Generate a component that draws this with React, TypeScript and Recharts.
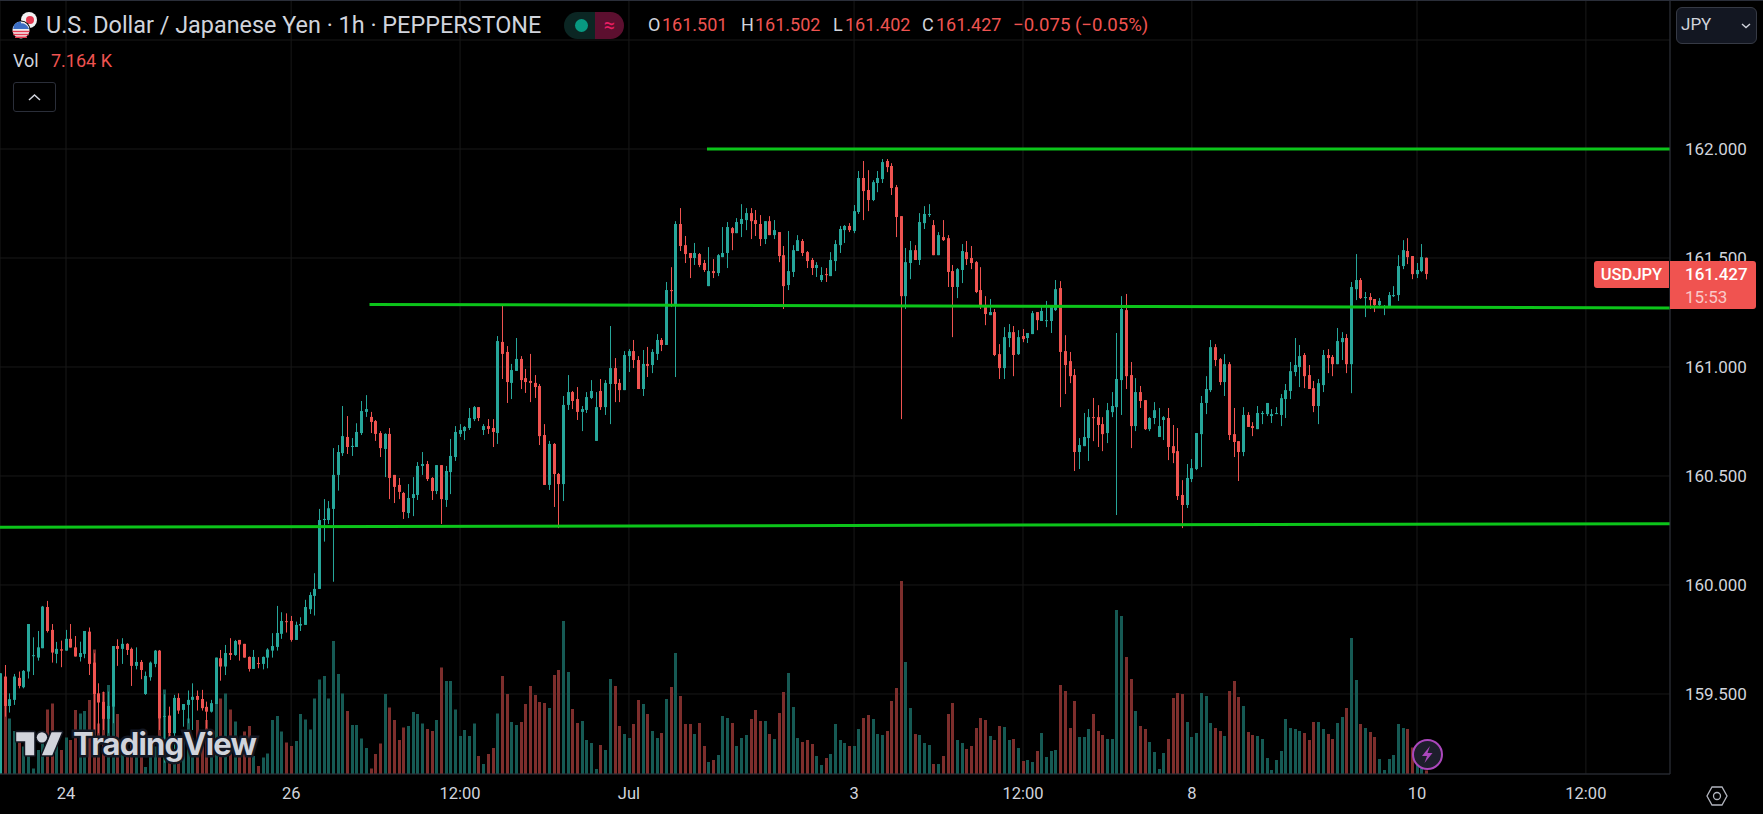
import { ComposedChart, Bar, XAxis, YAxis, CartesianGrid, ReferenceLine } from 'recharts'

const opens = [
  159.136,159.580,159.445,159.473,159.574,159.531,159.603,159.675,159.667,159.710,
  159.899,159.794,159.684,159.705,159.699,159.753,159.714,159.670,159.684,159.786,
  159.644,159.503,159.464,159.386,159.442,159.720,159.707,159.730,159.707,159.629,
  159.647,159.500,159.577,159.638,159.699,159.396,159.401,159.320,159.482,159.427,
  159.450,159.473,159.491,159.477,159.441,159.419,159.454,159.664,159.626,159.688,
  159.679,159.748,159.730,159.670,159.615,159.642,159.638,159.667,159.699,159.716,
  159.776,159.834,159.835,159.748,159.814,159.817,159.889,159.950,159.982,160.298,
  160.298,160.349,160.505,160.605,160.679,160.633,160.633,160.697,160.794,160.771,
  160.752,160.697,160.624,160.693,160.505,160.459,160.422,160.330,160.399,160.413,
  160.546,160.555,160.491,160.431,160.550,160.390,160.518,160.587,160.693,160.706,
  160.720,160.761,160.816,160.711,160.729,160.720,160.697,161.115,161.069,160.927,
  160.982,161.037,160.949,160.936,160.927,160.913,160.688,160.459,160.647,160.509,
  160.463,160.826,160.885,160.853,160.794,160.803,160.858,160.661,160.890,160.816,
  160.922,160.995,160.927,160.894,161.050,161.073,161.032,160.899,161.014,161.009,
  161.060,161.124,161.101,161.353,161.280,161.656,161.559,161.523,161.500,161.518,
  161.477,161.371,161.440,161.431,161.504,161.523,161.637,161.614,161.656,161.674,
  161.706,161.674,161.656,161.587,161.669,161.605,161.619,161.513,161.376,161.436,
  161.532,161.578,161.527,161.491,161.454,161.399,161.426,161.417,161.486,161.559,
  161.628,161.647,161.624,161.711,161.867,161.812,161.766,161.844,161.862,161.945,
  161.922,161.825,161.692,161.325,161.477,161.536,161.491,161.660,161.697,161.651,
  161.513,161.596,161.591,161.440,161.367,161.445,161.527,161.500,161.481,161.353,
  161.280,161.238,161.252,161.059,160.995,161.133,161.160,161.059,161.142,161.133,
  161.151,161.252,161.211,161.211,161.211,161.261,161.362,161.073,161.027,160.963,
  160.610,160.637,160.674,160.770,160.770,160.738,160.697,160.793,160.816,160.940,
  161.261,160.963,160.729,160.885,160.848,160.715,160.766,160.679,160.757,160.766,
  160.637,160.614,160.413,160.367,160.486,160.532,160.692,160.835,160.894,161.091,
  161.036,160.931,161.013,160.692,160.660,160.610,160.780,160.729,160.715,160.784,
  160.784,160.775,160.784,160.780,160.853,160.890,160.977,161.000,161.055,160.963,
  160.903,160.821,160.917,161.055,161.046,161.013,161.114,161.133,161.013,161.357,
  161.399,161.316,161.321,161.312,161.284,161.275,161.275,161.325,161.330,161.463,
  161.532,161.509,161.426,161.440,161.501,
]

const highs = [
  159.595,159.633,159.503,159.592,159.603,159.610,159.821,159.760,159.789,159.904,
  159.927,159.821,159.739,159.745,159.794,159.821,159.766,159.740,159.789,159.805,
  159.687,159.549,159.511,159.511,159.720,159.751,159.756,159.733,159.713,159.714,
  159.656,159.603,159.649,159.702,159.702,159.499,159.442,159.496,159.503,159.454,
  159.516,159.549,159.516,159.519,159.465,159.473,159.667,159.702,159.725,159.756,
  159.748,159.748,159.730,159.672,159.702,159.669,159.672,159.710,159.779,159.904,
  159.875,159.870,159.858,159.832,159.852,159.932,159.967,160.054,160.349,160.394,
  160.385,160.628,160.642,160.821,160.775,160.674,160.742,160.844,160.871,160.794,
  160.757,160.706,160.696,160.720,160.505,160.491,160.427,160.463,160.495,160.564,
  160.610,160.569,160.495,160.550,160.550,160.546,160.670,160.729,160.738,160.729,
  160.812,160.821,160.816,160.738,160.761,160.761,161.142,161.284,161.096,161.014,
  161.133,161.050,160.991,161.060,160.963,160.922,160.738,160.661,160.651,160.514,
  160.867,160.963,160.890,160.908,160.821,160.885,160.940,160.885,160.945,160.940,
  161.188,161.041,160.945,161.073,161.082,161.124,161.050,161.078,161.092,161.082,
  161.151,161.133,161.390,161.458,161.669,161.729,161.601,161.523,161.569,161.523,
  161.491,161.550,161.495,161.518,161.642,161.665,161.642,161.683,161.747,161.729,
  161.729,161.720,161.697,161.669,161.692,161.674,161.619,161.555,161.624,161.559,
  161.605,161.587,161.532,161.500,161.481,161.458,161.454,161.527,161.582,161.647,
  161.651,161.660,161.743,161.899,161.945,161.903,161.857,161.899,161.954,161.954,
  161.935,161.835,161.692,161.546,161.578,161.559,161.706,161.738,161.747,161.674,
  161.619,161.674,161.605,161.468,161.454,161.564,161.578,161.555,161.486,161.458,
  161.325,161.312,161.266,161.105,161.183,161.197,161.188,161.169,161.174,161.156,
  161.257,161.252,161.284,161.303,161.284,161.399,161.394,161.146,161.069,160.991,
  160.674,160.789,160.807,160.858,160.825,160.770,160.835,160.885,161.156,161.325,
  161.335,161.023,160.949,160.913,160.848,160.770,160.839,160.812,160.775,160.812,
  160.734,160.720,160.481,160.555,160.578,160.697,160.867,160.958,161.124,161.105,
  161.041,161.059,161.023,160.812,160.660,160.816,160.793,160.747,160.821,160.798,
  160.835,160.807,160.816,160.876,160.922,161.023,161.133,161.101,161.064,161.009,
  160.936,160.945,161.078,161.082,161.055,161.179,161.160,161.151,161.390,161.518,
  161.408,161.344,161.339,161.312,161.316,161.284,161.344,161.371,161.513,161.582,
  161.591,161.509,161.477,161.564,161.502,
]

const lows = [
  159.136,159.396,159.415,159.450,159.526,159.526,159.571,159.587,159.653,159.710,
  159.782,159.644,159.641,159.623,159.699,159.713,159.672,159.649,159.664,159.587,
  159.320,159.320,159.335,159.320,159.366,159.629,159.638,159.679,159.537,159.613,
  159.568,159.496,159.561,159.623,159.335,159.185,159.198,159.198,159.409,159.350,
  159.366,159.335,159.424,159.424,159.343,159.415,159.454,159.561,159.587,159.656,
  159.675,159.653,159.667,159.603,159.615,159.618,159.613,159.618,159.667,159.699,
  159.753,159.782,159.740,159.748,159.789,159.817,159.867,159.860,159.982,160.199,
  160.280,160.015,160.433,160.592,160.601,160.592,160.633,160.688,160.771,160.697,
  160.661,160.587,160.495,160.394,160.376,160.394,160.303,160.307,160.316,160.390,
  160.505,160.477,160.390,160.417,160.280,160.358,160.417,160.569,160.679,160.665,
  160.711,160.752,160.752,160.688,160.693,160.633,160.647,160.945,160.835,160.853,
  160.982,160.899,160.881,160.839,160.858,160.642,160.459,160.436,160.358,160.261,
  160.385,160.803,160.807,160.757,160.706,160.789,160.853,160.661,160.803,160.780,
  160.738,160.839,160.839,160.894,160.977,160.995,160.899,160.867,160.954,160.972,
  161.032,161.073,161.101,161.275,160.954,161.532,161.477,161.408,161.468,161.458,
  161.436,161.371,161.408,161.417,161.504,161.454,161.536,161.614,161.596,161.628,
  161.587,161.601,161.555,161.564,161.605,161.587,161.481,161.266,161.353,161.413,
  161.532,161.509,161.454,161.422,161.413,161.390,161.390,161.417,161.440,161.523,
  161.569,161.619,161.614,161.702,161.674,161.715,161.761,161.802,161.844,161.894,
  161.789,161.596,160.761,161.266,161.403,161.491,161.468,161.633,161.688,161.513,
  161.513,161.578,161.367,161.137,161.316,161.385,161.468,161.449,161.339,161.266,
  161.192,161.238,161.050,160.945,160.945,161.091,160.958,161.055,161.114,161.110,
  161.151,161.169,161.211,161.183,161.156,161.257,160.816,160.876,160.926,160.523,
  160.532,160.637,160.569,160.660,160.633,160.614,160.651,160.770,160.321,160.780,
  160.899,160.628,160.706,160.812,160.711,160.706,160.738,160.679,160.665,160.573,
  160.559,160.390,160.261,160.353,160.472,160.527,160.541,160.784,160.885,161.004,
  160.917,160.867,160.665,160.587,160.477,160.591,160.725,160.683,160.715,160.738,
  160.775,160.743,160.784,160.729,160.766,160.853,160.958,160.908,160.903,160.899,
  160.793,160.738,160.885,160.972,160.958,161.013,161.032,160.972,160.880,161.307,
  161.312,161.229,161.266,161.252,161.275,161.238,161.275,161.321,161.303,161.449,
  161.472,161.403,161.408,161.435,161.402,
]

const closes = [
  159.595,159.445,159.476,159.580,159.537,159.606,159.821,159.678,159.714,159.901,
  159.789,159.690,159.707,159.699,159.753,159.713,159.672,159.688,159.789,159.638,
  159.500,159.461,159.386,159.445,159.720,159.707,159.730,159.702,159.629,159.647,
  159.610,159.583,159.644,159.699,159.387,159.399,159.320,159.482,159.424,159.454,
  159.473,159.487,159.473,159.435,159.419,159.458,159.667,159.626,159.688,159.679,
  159.743,159.727,159.667,159.615,159.670,159.639,159.670,159.704,159.720,159.780,
  159.835,159.831,159.748,159.817,159.821,159.899,159.954,159.982,160.298,160.303,
  160.352,160.505,160.610,160.683,160.633,160.638,160.702,160.798,160.807,160.748,
  160.693,160.628,160.693,160.491,160.450,160.427,160.335,160.399,160.417,160.546,
  160.555,160.486,160.431,160.550,160.394,160.523,160.592,160.702,160.711,160.725,
  160.766,160.816,160.766,160.729,160.716,160.702,161.119,161.060,160.931,160.986,
  161.037,160.940,160.931,160.927,160.908,160.683,160.459,160.647,160.509,160.463,
  160.826,160.885,160.844,160.794,160.807,160.862,160.890,160.816,160.816,160.927,
  160.995,160.922,160.894,161.055,161.073,161.032,160.899,161.014,161.005,161.069,
  161.124,161.101,161.353,161.348,161.656,161.555,161.518,161.500,161.523,161.468,
  161.445,161.440,161.431,161.513,161.523,161.642,161.614,161.665,161.679,161.706,
  161.669,161.656,161.587,161.669,161.605,161.628,161.509,161.371,161.440,161.536,
  161.582,161.523,161.486,161.454,161.468,161.422,161.422,161.491,161.564,161.633,
  161.647,161.628,161.715,161.867,161.807,161.766,161.848,161.867,161.940,161.917,
  161.821,161.688,161.325,161.481,161.536,161.491,161.665,161.702,161.702,161.513,
  161.605,161.582,161.436,161.367,161.449,161.532,161.495,161.477,161.344,161.280,
  161.243,161.252,161.055,160.995,161.137,161.160,161.055,161.137,161.128,161.156,
  161.247,161.215,161.257,161.215,161.275,161.357,161.069,161.009,160.958,160.610,
  160.642,160.679,160.770,160.766,160.734,160.692,160.802,160.821,160.945,161.266,
  160.958,160.729,160.885,160.844,160.715,160.766,160.802,160.729,160.770,160.633,
  160.605,160.408,160.367,160.491,160.536,160.697,160.835,160.899,161.091,161.032,
  160.931,161.013,160.688,160.656,160.610,160.780,160.725,160.720,160.789,160.789,
  160.835,160.784,160.789,160.857,160.894,160.981,161.009,161.050,160.958,160.899,
  160.821,160.926,161.055,161.041,161.013,161.119,161.133,161.013,161.367,161.399,
  161.316,161.321,161.307,161.284,161.303,161.280,161.330,161.330,161.463,161.536,
  161.504,161.426,161.445,161.504,161.427,
]

// volume in K
const volumes = [
  135,156,111,86,65,55,41,11,48,81,
  129,141,61,48,73,68,128,121,126,148,
  249,101,164,178,138,120,68,41,61,68,
  75,14,75,55,111,169,81,41,45,68,
  111,71,108,81,108,41,141,151,161,129,
  105,38,85,96,36,16,33,41,108,116,
  85,63,56,66,120,109,89,151,189,196,
  151,266,200,161,126,98,98,71,52,11,
  40,61,160,133,108,68,93,96,124,120,
  101,90,86,108,213,186,186,129,76,88,
  76,101,36,20,40,52,121,196,160,104,
  98,104,140,176,158,144,142,132,198,208,
  306,204,130,102,106,68,62,10,58,48,
  190,176,96,80,72,100,148,140,120,86,
  72,82,150,174,242,156,100,100,80,102,
  56,24,28,38,116,112,102,56,72,78,
  110,128,106,106,80,70,122,164,202,134,
  72,64,68,60,36,18,32,40,100,68,
  62,56,56,90,112,118,110,80,78,86,
  146,172,386,224,132,80,78,62,58,20,
  20,36,120,142,68,62,50,56,92,112,
  108,76,68,96,94,68,70,52,26,28,
  24,46,82,34,46,48,178,166,92,146,
  74,74,90,120,86,78,70,70,328,316,
  234,190,126,96,90,64,44,10,42,70,
  152,162,160,104,74,82,162,156,102,92,
  86,76,166,186,154,136,84,78,76,70,
  32,8,28,46,110,92,90,86,82,68,
  104,104,90,80,70,102,114,132,272,188,
  100,92,84,74,30,8,30,38,100,92,
  90,53,27,13,7.164,
]

const timeTicks = [14, 62, 98, 134, 182, 218, 254, 302, 338]
const timeLabels = ['24', '26', '12:00', 'Jul', '3', '12:00', '8', '10', '12:00']
const priceTicks = [159.5, 160, 160.5, 161, 161.5, 162, 162.5]

// support / resistance lines: [from bar, from price, to bar, to price]
const levels = [
  [150.64, 162.0, 355.93, 162.0],
  [78.7, 161.287, 355.93, 161.271],
  [-0.07, 160.265, 355.93, 160.281],
]

const rows = opens.map((open, i) => ({
  i,
  open,
  high: highs[i],
  low: lows[i],
  close: closes[i],
  volume: volumes[i],
}))

const UP = '#26a69a'
const DOWN = '#ef5350'
const FONT = 'Roboto, sans-serif'
const X_DOMAIN = [-0.07, 355.93]

function Candle(props: any) {
  const { x, y, width, height, payload } = props
  const { open, high, low, close } = payload
  const span = high - low || 1
  const toY = (v: number) => y + ((high - v) / span) * height
  const color = close >= open ? UP : DOWN
  const left = Math.round(x)
  const top = toY(Math.max(open, close))
  const bodyH = Math.max(1, toY(Math.min(open, close)) - top)
  return (
    <g>
      <rect x={left + Math.floor(width / 2)} y={y} width={1} height={height} fill={color} />
      <rect x={left} y={top} width={width} height={bodyH} fill={color} />
    </g>
  )
}

function VolumeBar(props: any) {
  const { x, y, width, height, payload } = props
  const color = payload.close >= payload.open ? '#165a54' : '#7d2e2c'
  return <rect x={Math.round(x)} y={y} width={width} height={height} fill={color} />
}

function Label({ x, y, size = 18, color = '#d1d4dc', weight = 400, children }: any) {
  return (
    <div
      style={{
        position: 'absolute',
        left: x,
        top: y,
        fontSize: size,
        lineHeight: `${size + 4}px`,
        color,
        fontWeight: weight,
        whiteSpace: 'nowrap',
      }}
    >
      {children}
    </div>
  )
}

function Header() {
  return (
    <>
      <svg style={{ position: 'absolute', left: 10, top: 10 }} width={32} height={32}>
        <circle cx={19} cy={10} r={8} fill="#f2f2f2" />
        <circle cx={20} cy={10} r={4} fill="#e53950" />
        <circle cx={11} cy={20} r={9.5} fill="#000" />
        <circle cx={11} cy={20} r={8.5} fill="#f0f0f0" />
        <path d="M2.6 21.5h16.8M3.2 24.5h15.6M5 27.3h12" stroke="#e53950" strokeWidth={1.6} />
        <path d="M3 19h16a8.5 8.5 0 0 0-16 0z" fill="#3d6fc4" />
        <path d="M3 17.5a8.5 8.5 0 0 1 8-6v6z" fill="#3d6fc4" />
      </svg>
      <Label x={46} y={12} size={23.4}>U.S. Dollar / Japanese Yen · 1h · PEPPERSTONE</Label>

      <div style={{ position: 'absolute', left: 564, top: 12, width: 60, height: 27, borderRadius: 14, overflow: 'hidden', display: 'flex' }}>
        <div style={{ width: 31, background: '#0b2623', position: 'relative' }}>
          <div style={{ position: 'absolute', left: 11, top: 7, width: 13, height: 13, borderRadius: 7, background: '#089981' }} />
        </div>
        <div style={{ width: 29, background: '#5c0f2f', color: '#e91e63', fontSize: 20, lineHeight: '26px', textAlign: 'center' }}>≈</div>
      </div>

      <Label x={648} y={14}>O</Label>
      <Label x={662} y={14} color={DOWN}>161.501</Label>
      <Label x={741} y={14}>H</Label>
      <Label x={755} y={14} color={DOWN}>161.502</Label>
      <Label x={833} y={14}>L</Label>
      <Label x={845} y={14} color={DOWN}>161.402</Label>
      <Label x={922} y={14}>C</Label>
      <Label x={936} y={14} color={DOWN}>161.427</Label>
      <Label x={1013} y={14} size={18.6} color={DOWN}>−0.075 (−0.05%)</Label>

      <Label x={13} y={50}>Vol</Label>
      <Label x={51} y={50} color={DOWN}>7.164 K</Label>

      <div style={{ position: 'absolute', left: 13, top: 82, width: 43, height: 30, border: '1px solid #2a2e39', borderRadius: 3, boxSizing: 'border-box' }}>
        <svg width={41} height={28}>
          <path d="M15 17l5.5-5 5.5 5" fill="none" stroke="#d1d4dc" strokeWidth={1.5} />
        </svg>
      </div>
    </>
  )
}

function RightLabels() {
  return (
    <>
      <div style={{ position: 'absolute', left: 1676, top: 7, width: 81, height: 37, background: '#131722', border: '1px solid #363a45', borderRadius: 6, boxSizing: 'border-box' }}>
        <Label x={4} y={6} size={17}>JPY</Label>
        <svg style={{ position: 'absolute', left: 62, top: 12 }} width={14} height={12}>
          <path d="M3 4l4 3.5 4-3.5" fill="none" stroke="#d1d4dc" strokeWidth={1.4} />
        </svg>
      </div>

      <div style={{ position: 'absolute', left: 1594, top: 261, width: 75, height: 27, background: '#f05350', borderRadius: '3px 0 0 3px', color: '#fff', fontSize: 16.5, lineHeight: '27px', fontWeight: 500, textAlign: 'center' }}>
        USDJPY
      </div>
      <div style={{ position: 'absolute', left: 1670, top: 261, width: 86, height: 48, background: '#f05350', borderRadius: '0 3px 3px 0', paddingLeft: 15, boxSizing: 'border-box' }}>
        <div style={{ color: '#fff', fontSize: 17, lineHeight: '27px', fontWeight: 500 }}>161.427</div>
        <div style={{ color: '#ffffffb3', fontSize: 17, lineHeight: '18px' }}>15:53</div>
      </div>

      <svg style={{ position: 'absolute', left: 1705, top: 784 }} width={24} height={24}>
        <path d="M7 3h10l5 9-5 9H7l-5-9z" fill="none" stroke="#b2b5be" strokeWidth={1.3} />
        <circle cx={12} cy={12} r={3.5} fill="none" stroke="#b2b5be" strokeWidth={1.3} />
      </svg>
    </>
  )
}

function Watermark() {
  return (
    <>
      <svg style={{ position: 'absolute', left: 15, top: 727 }} width={50} height={36} viewBox="0 0 37 28">
        <g stroke="#131722" strokeWidth={2.4} paintOrder="stroke" strokeLinejoin="round">
          <path d="M14 22H7V11H0V4h14v18z" fill="#d1d4dc" />
          <path d="M28 22h-8l7.5-18h8L28 22z" fill="#d1d4dc" />
          <circle cx={20} cy={8} r={4} fill="#d1d4dc" />
        </g>
      </svg>
      <div
        style={{
          position: 'absolute',
          left: 73,
          top: 722,
          fontFamily: 'Inter, sans-serif',
          fontSize: 31,
          lineHeight: '44px',
          fontWeight: 700,
          letterSpacing: -0.8,
          color: '#d1d4dc',
          WebkitTextStroke: '5px #131722',
          paintOrder: 'stroke fill',
        }}
      >
        TradingView
      </div>

      <svg style={{ position: 'absolute', left: 1411, top: 738 }} width={33} height={33}>
        <circle cx={16.5} cy={16.5} r={14.5} fill="#1e1e2c" stroke="#ab47bc" strokeWidth={2} />
        <path d="M19 8l-8 10h5l-2.5 7 8-10h-5z" fill="#ab47bc" />
      </svg>
    </>
  )
}

export default function App() {
  return (
    <div style={{ position: 'relative', width: 1763, height: 814, background: '#000', fontFamily: FONT, overflow: 'hidden' }}>
      <style>{'body{margin:0;background:#000}'}</style>
      <ComposedChart
        width={1763}
        height={814}
        data={rows}
        margin={{ top: 0, right: 0, bottom: 0, left: 0 }}
        barGap={0}
      >
        <CartesianGrid xAxisId="price" yAxisId="price" stroke="#181818" />
        <XAxis
          xAxisId="price"
          type="number"
          dataKey="i"
          domain={X_DOMAIN}
          allowDataOverflow
          ticks={timeTicks}
          tickFormatter={(v: number) => timeLabels[timeTicks.indexOf(v)]}
          interval={0}
          height={40}
          tickSize={0}
          tickMargin={13}
          stroke="#2a2e39"
          tick={{ fill: '#d1d4dc', fontSize: 16.5 }}
        />
        <XAxis xAxisId="vol" type="number" dataKey="i" domain={X_DOMAIN} allowDataOverflow hide />
        <YAxis
          yAxisId="price"
          orientation="right"
          width={93}
          domain={[159.133, 162.6835]}
          allowDataOverflow
          ticks={priceTicks}
          interval={0}
          tickSize={0}
          tickMargin={15}
          stroke="#2a2e39"
          tickFormatter={(v: number) => (v > 162 ? '' : v.toFixed(3))}
          tick={{ fill: '#d1d4dc', fontSize: 17 }}
        />
        <YAxis yAxisId="vol" hide domain={[0, 1548]} allowDataOverflow />
        <Bar
          xAxisId="vol"
          yAxisId="vol"
          dataKey="volume"
          barSize={3}
          shape={<VolumeBar />}
          isAnimationActive={false}
        />
        <Bar
          xAxisId="price"
          yAxisId="price"
          dataKey={(d: any) => [d.low, d.high]}
          barSize={3}
          shape={<Candle />}
          isAnimationActive={false}
        />
        {levels.map((l, idx) => (
          <ReferenceLine
            key={idx}
            xAxisId="price"
            yAxisId="price"
            segment={[{ x: l[0], y: l[1] }, { x: l[2], y: l[3] }]}
            stroke="#0cc41a"
            strokeWidth={3}
            ifOverflow="visible"
          />
        ))}
      </ComposedChart>
      <div style={{ position: 'absolute', left: 0, top: 0, width: 1763, height: 1, background: '#2a2e39' }} />
      <Header />
      <RightLabels />
      <Watermark />
    </div>
  )
}
